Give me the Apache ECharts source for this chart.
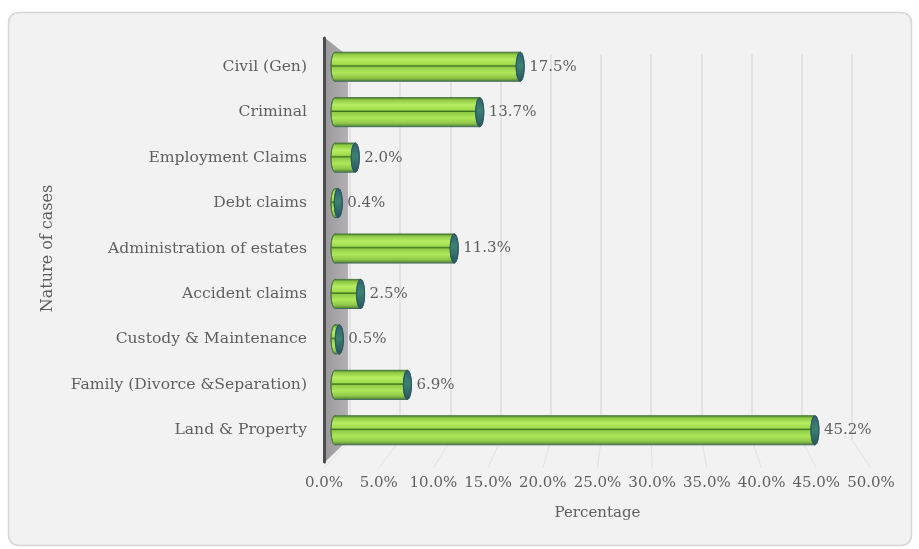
<!DOCTYPE html>
<html>
<head>
<meta charset="utf-8">
<script src="https://cdn.jsdelivr.net/npm/echarts@6/dist/echarts.min.js"></script>
<style>
  html, body { margin: 0; padding: 0; background: #ffffff; }
  #chart { width: 919px; height: 549px; }
</style>
</head>
<body>
<div id="chart"></div>
<script>
// Nature of cases and their share of the total caseload (%)
const categories = [
  'Civil (Gen)',
  'Criminal',
  'Employment Claims',
  'Debt claims',
  'Administration of estates',
  'Accident claims',
  'Custody & Maintenance',
  'Family (Divorce &Separation)',
  'Land & Property'
];
const shares = [17.5, 13.7, 2.0, 0.4, 11.3, 2.5, 0.5, 6.9, 45.2];

// Percentage axis range and step
const axisMin = 0;
const axisMax = 50;
const axisStep = 5;

const FONT = 'DejaVu Serif';
const TEXT = '#5f5f5f';
const FS = 15;

const chart = echarts.init(document.getElementById('chart'), null, { renderer: 'canvas' });

const bodyGradient = new echarts.graphic.LinearGradient(0, 0, 0, 1, [
  { offset: 0.00, color: '#4f7f2c' },
  { offset: 0.08, color: '#8fcb45' },
  { offset: 0.25, color: '#b6ed62' },
  { offset: 0.42, color: '#a0dc4c' },
  { offset: 0.455, color: '#5f9630' },
  { offset: 0.48, color: '#3d6b1c' },
  { offset: 0.51, color: '#8fcb45' },
  { offset: 0.70, color: '#ade85a' },
  { offset: 0.88, color: '#8fc848' },
  { offset: 1.00, color: '#557f36' }
]);
const capGradient = new echarts.graphic.LinearGradient(0, 0, 0, 1, [
  { offset: 0, color: '#2f6272' },
  { offset: 0.45, color: '#3d8270' },
  { offset: 1, color: '#27555f' }
]);

function renderCylinder(params, api) {
  const v = api.value(0);
  const c = api.value(1);
  const start = api.coord([0, c]);
  const end = api.coord([v, c]);
  const h = api.size([0, 1])[1] * 0.64;
  const rx = 4;
  const top = start[1] - h / 2;
  const len = Math.max(end[0] - start[0], 0);
  return {
    type: 'group',
    children: [
      {
        type: 'ellipse',
        shape: { cx: start[0] + 1, cy: start[1], rx: rx, ry: h / 2 },
        style: { fill: bodyGradient, stroke: '#4a7a3e', lineWidth: 1 }
      },
      {
        type: 'rect',
        shape: { x: start[0] + 1, y: top, width: Math.max(len - 1, 0), height: h },
        style: { fill: bodyGradient }
      },
      {
        type: 'line',
        shape: { x1: start[0] + 1, y1: top, x2: end[0], y2: top },
        style: { stroke: '#4a7a3e', lineWidth: 1 }
      },
      {
        type: 'line',
        shape: { x1: start[0] + 1, y1: top + h, x2: end[0], y2: top + h },
        style: { stroke: '#3d6c5c', lineWidth: 1 }
      },
      {
        type: 'ellipse',
        shape: { cx: end[0], cy: end[1], rx: rx, ry: h / 2 },
        style: { fill: capGradient, stroke: '#2a5866', lineWidth: 1 }
      },
      {
        type: 'text',
        style: {
          x: end[0] + rx + 5,
          y: end[1],
          text: v.toFixed(1) + '%',
          fill: TEXT,
          font: FS + 'px "' + FONT + '"',
          verticalAlign: 'middle',
          align: 'left'
        }
      }
    ]
  };
}

const option = {
  animation: false,
  backgroundColor: '#ffffff',
  grid: [
    // cylinders
    { left: 334, top: 44, width: 532, height: 409 },
    // back wall gridlines
    { left: 350, top: 54, width: 502, height: 386 },
    // floor edge with tick labels
    { left: 324, top: 38, width: 547, height: 424 }
  ],
  xAxis: [
    {
      gridIndex: 0, type: 'value', min: axisMin, max: axisMax, interval: axisStep,
      axisLine: { show: false }, axisTick: { show: false }, axisLabel: { show: false },
      splitLine: { show: false }
    },
    {
      gridIndex: 1, type: 'value', min: axisMin, max: axisMax, interval: axisStep,
      axisLine: { show: false }, axisTick: { show: false }, axisLabel: { show: false },
      splitLine: { show: true, lineStyle: { color: '#dedede', width: 1.5 } }
    },
    {
      gridIndex: 2, type: 'value', min: axisMin, max: axisMax, interval: axisStep,
      axisLine: { show: false }, axisTick: { show: false },
      splitLine: { show: false },
      axisLabel: {
        margin: 14, color: TEXT, fontFamily: FONT, fontSize: FS,
        formatter: (val) => val.toFixed(1) + '%'
      },
      name: 'Percentage', nameLocation: 'middle', nameGap: 44,
      nameTextStyle: { color: TEXT, fontFamily: FONT, fontSize: FS }
    }
  ],
  yAxis: [
    {
      gridIndex: 0, type: 'category', data: categories, inverse: true,
      axisLine: { show: false }, axisTick: { show: false },
      axisLabel: { margin: 27, color: TEXT, fontFamily: FONT, fontSize: 15.6 },
      name: 'Nature of cases', nameLocation: 'middle', nameGap: 278, nameRotate: 90,
      nameTextStyle: { color: TEXT, fontFamily: FONT, fontSize: FS + 1 }
    },
    {
      gridIndex: 1, type: 'category', data: categories, inverse: true,
      axisLine: { show: false }, axisTick: { show: false }, axisLabel: { show: false }
    },
    {
      gridIndex: 2, type: 'category', data: categories, inverse: true,
      axisLine: { show: true, lineStyle: { color: '#4d4d4d', width: 3 } },
      axisTick: { show: false }, axisLabel: { show: false }
    }
  ],
  series: [
    {
      type: 'custom',
      xAxisIndex: 0, yAxisIndex: 0,
      renderItem: renderCylinder,
      data: shares.map((v, i) => [v, i]),
      encode: { x: 0, y: 1 },
      z: 10
    }
  ]
};

chart.setOption(option);

// Chart frame, side wall and floor lines, placed from the axes' own pixel positions
const frontX0 = chart.convertToPixel({ xAxisIndex: 2 }, 0);
const backX0 = chart.convertToPixel({ xAxisIndex: 1 }, 0);
const floorFrontY = 38 + 424;
const floorBackY = 54 + 386;
const floorLines = [];
for (let t = axisMin; t <= axisMax; t += axisStep) {
  const fx = chart.convertToPixel({ xAxisIndex: 2 }, t);
  const bx = chart.convertToPixel({ xAxisIndex: 1 }, t);
  floorLines.push({
    type: 'line', z: -5,
    shape: { x1: fx, y1: floorFrontY + 6, x2: bx, y2: floorBackY },
    style: { stroke: '#e2e2e2', lineWidth: 1 }
  });
}

chart.setOption({
  graphic: [
    {
      type: 'rect', z: -100,
      shape: { x: 8.5, y: 12.5, width: 903, height: 533, r: 10 },
      style: { fill: '#f2f2f2', stroke: '#d6d6d6', lineWidth: 1.5 }
    },
    {
      type: 'polygon', z: -4,
      shape: {
        points: [
          [frontX0 + 1, 38],
          [backX0 - 2, 56],
          [backX0 - 2, floorBackY],
          [frontX0 + 1, floorFrontY]
        ]
      },
      style: {
        fill: new echarts.graphic.LinearGradient(0, 0, 1, 0, [
          { offset: 0, color: '#9c999c' },
          { offset: 1, color: '#b3b0b3' }
        ])
      }
    }
  ].concat(floorLines)
});
</script>
</body>
</html>
